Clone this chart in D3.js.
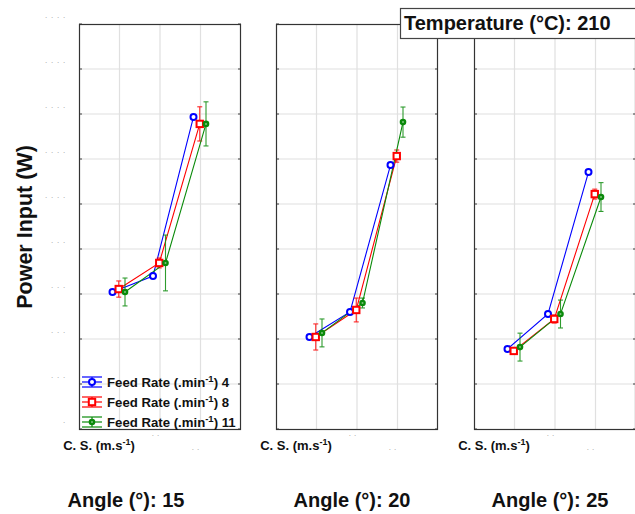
<!DOCTYPE html>
<html><head><meta charset="utf-8">
<script src="https://cdn.jsdelivr.net/npm/d3@7"></script>
<style>
html,body{margin:0;padding:0;background:#fff;}
svg{display:block;font-family:"Liberation Sans",Arial,sans-serif;}
</style></head>
<body><div id="chart"></div>
<script>
// ---- data ----
const speeds = [1, 2, 3];                 // cutting speed categories (x)
const angles = [15, 20, 25];              // panels
const feedRates = [4, 8, 11];             // series
const temperature = 210;
const yTicks = [0, 200, 400, 600, 800, 1000, 1200, 1400, 1600, 1800];

// power input (W) per angle, per feed rate
const p15_f4  = [609, 680, 1387];
const p15_f8  = [622, 738, 1356];
const p15_f11 = [609, 738, 1356];
const p20_f4  = [409, 520, 1173];
const p20_f8  = [409, 529, 1213];
const p20_f11 = [427, 560, 1364];
const p25_f4  = [356, 511, 1142];
const p25_f8  = [347, 489, 1044];
const p25_f11 = [364, 511, 1031];
// error half-widths
const e15_f4  = [8, 8, 8];
const e15_f8  = [36, 22, 76];
const e15_f11 = [62, 124, 98];
const e20_f4  = [8, 8, 8];
const e20_f8  = [58, 53, 27];
const e20_f11 = [62, 22, 67];
const e25_f4  = [8, 8, 8];
const e25_f8  = [15, 18, 22];
const e25_f11 = [62, 62, 64];

const values = {15: [p15_f4, p15_f8, p15_f11], 20: [p20_f4, p20_f8, p20_f11], 25: [p25_f4, p25_f8, p25_f11]};
const errors = {15: [e15_f4, e15_f8, e15_f11], 20: [e20_f4, e20_f8, e20_f11], 25: [e25_f4, e25_f8, e25_f11]};

// ---- layout ----
const W = 635, H = 514;
const plotTop = 24, plotBottom = 429, pw = 162;
const panelX = [79, 276, 474];
const angleLabelX = [126, 352, 550];
const colors = ["#0000ff", "#ff0000", "#0a8a0a"];

const svg = d3.select("#chart").append("svg").attr("width", W).attr("height", H);
const y = d3.scaleLinear().domain([0, 1800]).range([plotBottom, plotTop]);
const dodge = d3.scalePoint().domain(feedRates).range([-7, 5.5]);

function drawMarker(g, i, cx, cy) {
  if (i === 0) {
    g.append("circle").attr("cx", cx).attr("cy", cy).attr("r", 3)
      .attr("fill", "#fff").attr("stroke", colors[0]).attr("stroke-width", 2);
  } else if (i === 1) {
    g.append("rect").attr("x", cx - 3.2).attr("y", cy - 3.2).attr("width", 6.4).attr("height", 6.4)
      .attr("fill", "#fff").attr("stroke", colors[1]).attr("stroke-width", 2);
  } else {
    g.append("circle").attr("cx", cx).attr("cy", cy).attr("r", 3.3)
      .attr("fill", colors[2]);
    g.append("circle").attr("cx", cx).attr("cy", cy).attr("r", 1)
      .attr("fill", "#7fc27f");
  }
}

angles.forEach((a, pi) => {
  const x0 = panelX[pi];
  const x = d3.scaleLinear().domain([0, 4]).range([x0, x0 + pw]);
  const g = svg.append("g");
  const clipId = "clip" + pi;
  svg.append("clipPath").attr("id", clipId).append("rect")
    .attr("x", x0).attr("y", plotTop - 10).attr("width", pw).attr("height", plotBottom - plotTop + 20);
  g.append("rect").attr("x", x0).attr("y", plotTop).attr("width", pw).attr("height", plotBottom - plotTop).attr("fill", "#fff");
  // gridlines
  g.append("g").selectAll("line").data(yTicks.slice(1, -1)).join("line")
    .attr("x1", x0).attr("x2", x0 + pw).attr("y1", d => y(d)).attr("y2", d => y(d))
    .attr("stroke", "#e0e0e0").attr("stroke-width", 1.2);
  g.append("g").selectAll("line").data(speeds).join("line")
    .attr("x1", d => x(d)).attr("x2", d => x(d)).attr("y1", plotTop).attr("y2", plotBottom)
    .attr("stroke", "#e0e0e0").attr("stroke-width", 1.2);
  // inward ticks
  g.append("g").selectAll("line").data(yTicks).join("line")
    .attr("x1", x0).attr("x2", x0 + 3).attr("y1", d => y(d)).attr("y2", d => y(d))
    .attr("stroke", "#444");
  g.append("g").selectAll("line").data(yTicks).join("line")
    .attr("x1", x0 + pw - 3).attr("x2", x0 + pw).attr("y1", d => y(d)).attr("y2", d => y(d))
    .attr("stroke", "#444");
  // frame
  g.append("rect").attr("x", x0 + 0.5).attr("y", plotTop + 0.5).attr("width", pw - 1).attr("height", plotBottom - plotTop)
    .attr("fill", "none").attr("stroke", "#333").attr("stroke-width", 1.2);

  const data = g.append("g").attr("clip-path", `url(#${clipId})`);
  feedRates.forEach((f, si) => {
    const vals = values[a][si], errs = errors[a][si];
    const pts = speeds.map((s, k) => ({x: x(s) + dodge(f), v: vals[k], e: errs[k]}));
    data.append("path").datum(pts)
      .attr("d", d3.line().x(d => d.x).y(d => y(d.v)))
      .attr("fill", "none").attr("stroke", colors[si]).attr("stroke-width", 1.1);
    pts.forEach(p => {
      const eg = data.append("g").attr("stroke", colors[si]).attr("stroke-width", 1.1).attr("opacity", 0.85);
      eg.append("line").attr("x1", p.x).attr("x2", p.x).attr("y1", y(p.v - p.e)).attr("y2", y(p.v + p.e));
      eg.append("line").attr("x1", p.x - 2.5).attr("x2", p.x + 2.5).attr("y1", y(p.v - p.e)).attr("y2", y(p.v - p.e));
      eg.append("line").attr("x1", p.x - 2.5).attr("x2", p.x + 2.5).attr("y1", y(p.v + p.e)).attr("y2", y(p.v + p.e));
    });
  });
  feedRates.forEach((f, si) => {
    const vals = values[a][si];
    speeds.forEach((s, k) => drawMarker(data, si, x(s) + dodge(f), y(vals[k])));
  });

  const xt = svg.append("g");
  [[78, 436], [118, 450]].forEach(([dx, yy]) => {
    xt.append("text").attr("x", x0 + dx).attr("y", yy).attr("text-anchor", "middle")
      .attr("font-size", 8).attr("fill", "#999").attr("letter-spacing", 3).text("..");
  });
  const xtitle = svg.append("text").attr("x", x0 + 20).attr("y", 450).attr("text-anchor", "middle")
    .attr("font-size", 13).attr("font-weight", "bold").attr("fill", "#111");
  xtitle.append("tspan").text("C. S. (m.s");
  xtitle.append("tspan").attr("dy", -5).attr("font-size", 9).text("-1");
  xtitle.append("tspan").attr("dy", 5).text(")");

  svg.append("text").attr("x", angleLabelX[pi]).attr("y", 507).attr("text-anchor", "middle")
    .attr("font-size", 20).attr("font-weight", "bold").attr("fill", "#111")
    .text(`Angle (°): ${a}`);
});

// y tick labels (rendered as dots like the source)
svg.append("g").selectAll("text").data(yTicks).join("text")
  .attr("x", 69).attr("y", d => y(d) - 6)
  .attr("text-anchor", "end")
  .attr("font-size", 8).attr("fill", "#999")
  .attr("letter-spacing", 3.8)
  .text(d => ".".repeat(String(d).length));

// y axis title
svg.append("text").attr("transform", "translate(32,227) rotate(-90)")
  .attr("text-anchor", "middle").attr("font-size", 21.5).attr("font-weight", "bold").attr("fill", "#111")
  .text("Power Input (W)");

// temperature box
svg.append("rect").attr("x", 400.5).attr("y", 8.5).attr("width", 240).attr("height", 30)
  .attr("fill", "#fff").attr("stroke", "#444").attr("stroke-width", 1.2);
svg.append("text").attr("x", 404).attr("y", 30).attr("font-size", 20).attr("font-weight", "bold")
  .attr("fill", "#111").text(`Temperature (°C): ${temperature}`);

// legend
const lg = svg.append("g");
feedRates.forEach((f, si) => {
  const cy = 382 + si * 20;
  const g = lg.append("g").attr("stroke", colors[si]).attr("stroke-width", 1.2);
  g.append("line").attr("x1", 82).attr("x2", 102).attr("y1", cy).attr("y2", cy);
  g.append("line").attr("x1", 82).attr("x2", 102).attr("y1", cy - 5).attr("y2", cy - 5);
  g.append("line").attr("x1", 82).attr("x2", 102).attr("y1", cy + 5).attr("y2", cy + 5);
  g.append("line").attr("x1", 92).attr("x2", 92).attr("y1", cy - 5).attr("y2", cy + 5);
  drawMarker(lg, si, 92, cy);
  const t = lg.append("text").attr("x", 107).attr("y", cy + 5).attr("font-size", 13.2)
    .attr("font-weight", "bold").attr("fill", "#111");
  t.append("tspan").text("Feed Rate (.min");
  t.append("tspan").attr("dy", -5).attr("font-size", 9.5).text("-1");
  t.append("tspan").attr("dy", 5).text(") " + f);
});
</script>
</body></html>
